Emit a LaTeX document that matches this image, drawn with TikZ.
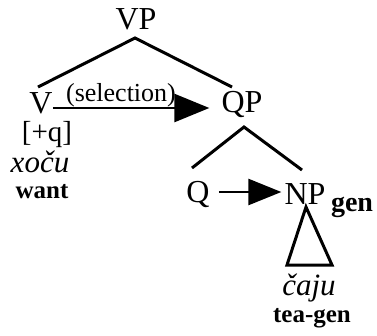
\documentclass[tikz,border=0pt]{standalone}
\usepackage{fontspec}
\setmainfont{Liberation Serif}
\usetikzlibrary{arrows.meta}
\begin{document}
\begin{tikzpicture}[x=1pt,y=-1pt,
  lbl/.style={inner sep=0pt,font=\fontsize{32}{34}\selectfont},
  feat/.style={inner sep=0pt,font=\fontsize{29}{31}\selectfont},
  form/.style={inner sep=0pt,font=\fontsize{31}{33}\selectfont\itshape},
  gloss/.style={inner sep=0pt,font=\fontsize{25}{27}\selectfont\bfseries},
  note/.style={inner sep=0pt,font=\fontsize{26}{28}\selectfont},
  branch/.style={line width=3pt},
  sel/.style={line width=2.6pt,-{Triangle[length=35pt,width=28pt]}}]
  \useasboundingbox (0,0) rectangle (377,335);

  % labels
  \node[lbl]  (VP)  at (136,19)  {VP};
  \node[lbl]  (V)   at (41,103)  {V};
  \node[lbl]  (QP)  at (242,104) {QP};
  \node[feat] (feat) at (47,135) {[+q]};
  \node[form] (xocu) at (40,162) {xoču};
  \node[gloss] (want) at (42,192) {want};
  \node[lbl]  (Q)   at (198,194) {Q};
  \node[lbl]  (NP)  at (305,194) {NP};
  \node[gloss,font=\fontsize{28}{30}\selectfont\bfseries] (gen) at (352,207) {gen};
  \node[form] (caju) at (309,288) {čaju};
  \node[gloss] (teagen) at (312,318) {tea-gen};
  \node[note] (selection) at (121,95) {(selection)};

  % branch points
  \coordinate (vpfoot) at (135,38);
  \coordinate (vtop) at (38,87);
  \coordinate (qptop) at (232,87);
  \coordinate (qpfoot) at (244,127);
  \coordinate (qtop) at (192,168);
  \coordinate (nptop) at (302,170);
  \coordinate (npfoot) at (306,207);
  \coordinate (triL) at (287,265);
  \coordinate (triR) at (332,265);

  % tree
  \draw[branch] (vtop) -- (vpfoot) -- (qptop);
  \draw[branch] (qtop) -- (qpfoot) -- (nptop);
  \draw[branch,line join=miter] (npfoot) -- (triL) -- (triR) -- cycle;

  % selection arrows
  \draw[sel] ([yshift=-5pt]V.east) -- ([xshift=-12pt,yshift=-4pt]QP.west);
  \draw[sel,-{Triangle[length=33pt,width=26pt]}] ([xshift=9pt,yshift=2pt]Q.east) -- ([xshift=-3pt,yshift=2pt]NP.west);
\end{tikzpicture}
\end{document}
